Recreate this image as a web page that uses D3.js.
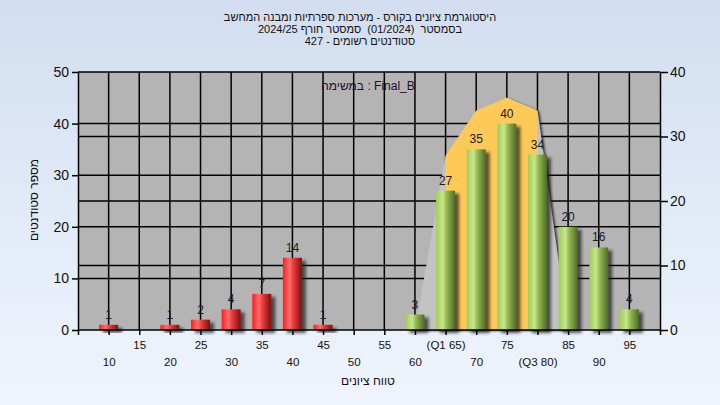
<!DOCTYPE html>
<html><head><meta charset="utf-8">
<script src="https://cdn.jsdelivr.net/npm/d3@7"></script>
<style>
html,body{margin:0;padding:0;}
body{width:720px;height:405px;overflow:hidden;}
svg{display:block;font-family:"Liberation Sans","DejaVu Sans",Arial,sans-serif;}
.pre{white-space:pre;}
</style></head>
<body>
<svg id="c" width="720" height="405"></svg>
<script>
const categories = [10,15,20,25,30,35,40,45,50,55,60,65,70,75,80,85,90,95];
const counts = [1,0,1,2,4,7,14,1,0,0,3,27,35,40,34,20,16,4];
const tickLabels = ["10","15","20","25","30","35","40","45","50","55","60","(Q1 65)","70","75","(Q3 80)","85","90","95"];
const areaX = [60,65,70,75,80,85];
const areaY = [0,27,34,36,34,0];
const q1 = 65, q3 = 80;
const leftTicks = [0,10,20,30,40,50];
const rightTicks = [0,10,20,30,40];
const titleLines = [
  "היסטוגרמת ציונים בקורס - מערכות ספרתיות ומבנה המחשב",
  "בסמסטר  (01/2024)  סמסטר חורף 2024/25",
  "סטודנטים רשומים - 427"
];
const taskLabel = "במשימה : Final_B";
const yTitle = "מספר סטודנטים";
const xTitle = "טווח ציונים";

const svg = d3.select("#c");
const L = 78, R = 660, T = 72, B = 330;
const x = d3.scaleLinear().domain([5,100]).range([L,R]);
const yL = d3.scaleLinear().domain([0,50]).range([B,T]);
const yR = d3.scaleLinear().domain([0,40]).range([B,T]);

const defs = svg.append("defs");
const bg = defs.append("linearGradient").attr("id","bg").attr("x1",0).attr("y1",0).attr("x2",0).attr("y2",1);
bg.append("stop").attr("offset","0%").attr("stop-color","#d2def0");
bg.append("stop").attr("offset","100%").attr("stop-color","#eff5fd");
const red = defs.append("linearGradient").attr("id","red").attr("x1",0).attr("y1",0).attr("x2",1).attr("y2",0);
[["0%","#ff1c1c"],["35%","#ff6e6e"],["55%","#e83a3a"],["100%","#7a1010"]].forEach(s=>red.append("stop").attr("offset",s[0]).attr("stop-color",s[1]));
const grn = defs.append("linearGradient").attr("id","grn").attr("x1",0).attr("y1",0).attr("x2",1).attr("y2",0);
[["0%","#a2cc58"],["35%","#c8e68c"],["55%","#94ba52"],["100%","#506a28"]].forEach(s=>grn.append("stop").attr("offset",s[0]).attr("stop-color",s[1]));
const sh = defs.append("filter").attr("id","sh").attr("x","-30%").attr("y","-30%").attr("width","180%").attr("height","180%");
sh.append("feDropShadow").attr("dx",4).attr("dy",3).attr("stdDeviation",1.6).attr("flood-color","#1a1a1a").attr("flood-opacity",0.7);
const sh2 = defs.append("filter").attr("id","sh2").attr("x","-30%").attr("y","-30%").attr("width","180%").attr("height","180%");
sh2.append("feDropShadow").attr("dx",2).attr("dy",1).attr("stdDeviation",1).attr("flood-color","#202020").attr("flood-opacity",0.85);
defs.append("clipPath").attr("id","qclip").append("rect")
  .attr("x",x(q1)).attr("y",T).attr("width",x(q3)-x(q1)).attr("height",B-T);

svg.append("rect").attr("width",720).attr("height",405).attr("fill","url(#bg)");
svg.append("rect").attr("x",L).attr("y",T).attr("width",R-L).attr("height",B-T).attr("fill","#b4b4b4");

// grid
const g = svg.append("g").attr("stroke","#000").attr("stroke-width",1.5);
categories.forEach(c=>g.append("line").attr("x1",x(c)).attr("x2",x(c)).attr("y1",T).attr("y2",B));
leftTicks.filter(v=>v>0&&v<50).forEach(v=>g.append("line").attr("x1",L).attr("x2",R).attr("y1",yL(v)).attr("y2",yL(v)));
rightTicks.filter(v=>v>0&&v<40).forEach(v=>g.append("line").attr("x1",L).attr("x2",R).attr("y1",yR(v)).attr("y2",yR(v)));

// area
const pts = areaX.map((v,i)=>[x(v), yR(areaY[i])]);
const areaGen = d3.area().x(d=>d[0]).y0(B).y1(d=>d[1]);
svg.append("path").attr("d",areaGen(pts)).attr("fill","#c3c3c3").attr("filter","url(#sh2)");
svg.append("path").attr("d",areaGen(pts)).attr("fill","#ffc957").attr("clip-path","url(#qclip)");

// bars
const bw = 19;
svg.append("g").selectAll("rect").data(categories.map((c,i)=>({c,v:counts[i]})).filter(d=>d.v>0))
  .join("rect")
  .attr("x",d=>x(d.c)-bw/2).attr("width",bw)
  .attr("y",d=>yL(d.v)).attr("height",d=>B-yL(d.v))
  .attr("fill",d=>d.c<=55?"url(#red)":"url(#grn)")
  .attr("filter","url(#sh)");

svg.append("g").selectAll("text").data(categories.map((c,i)=>({c,v:counts[i]})).filter(d=>d.v>0))
  .join("text")
  .attr("x",d=>x(d.c)).attr("y",d=>yL(d.v)-6)
  .attr("text-anchor","middle").attr("font-size",12).attr("fill","#1a1a2a")
  .text(d=>d.v);

// frame
const f = svg.append("g").attr("stroke","#000").attr("stroke-width",1.5).attr("fill","none");
f.append("line").attr("x1",L).attr("x2",R).attr("y1",T).attr("y2",T);
f.append("line").attr("x1",L).attr("x2",R).attr("y1",B).attr("y2",B);

// axes
const axL = svg.append("g").attr("transform",`translate(${L},0)`)
  .call(d3.axisLeft(yL).tickValues(leftTicks).tickSize(6).tickPadding(3).tickSizeOuter(0));
const axR = svg.append("g").attr("transform",`translate(${R},0)`)
  .call(d3.axisRight(yR).tickValues(rightTicks).tickSize(8).tickPadding(2).tickSizeOuter(0));
[axL,axR].forEach(a=>{
  a.selectAll("text").attr("font-size",14).attr("fill","#111").attr("font-family","Liberation Sans, Arial, sans-serif");
  a.selectAll("line,path").attr("stroke","#000").attr("stroke-width",1.5);
});
const axB = svg.append("g").attr("transform",`translate(0,${B})`)
  .call(d3.axisBottom(x).tickValues([5].concat(categories,[100])).tickSize(5).tickSizeOuter(0)
    .tickFormat(d=>{const i=categories.indexOf(d);return i<0?"":tickLabels[i];}));
axB.selectAll("line,path").attr("stroke","#000").attr("stroke-width",1.5);
axB.select("path").remove();
axB.selectAll("text").attr("font-size",11.5).attr("fill","#111").attr("font-family","Liberation Sans, Arial, sans-serif")
  .attr("dy",null)
  .attr("y",d=>{const i=categories.indexOf(d);return i%2===1?19:36;});

// titles
svg.append("g").selectAll("text").data(titleLines).join("text")
  .attr("class","pre")
  .attr("x",360).attr("y",(d,i)=>21+i*12).attr("text-anchor","middle")
  .attr("font-size",11).attr("fill","#111").text(d=>d);
svg.append("text").attr("x",368).attr("y",90).attr("text-anchor","middle")
  .attr("font-size",12).attr("fill","#2a0a2a").text(taskLabel);
svg.append("text").attr("transform","translate(38,200) rotate(-90)").attr("text-anchor","middle")
  .attr("font-size",12).attr("fill","#111").text(yTitle);
svg.append("text").attr("x",368).attr("y",385).attr("text-anchor","middle")
  .attr("font-size",12).attr("fill","#1a0a1a").text(xTitle);
</script>
</body></html>
